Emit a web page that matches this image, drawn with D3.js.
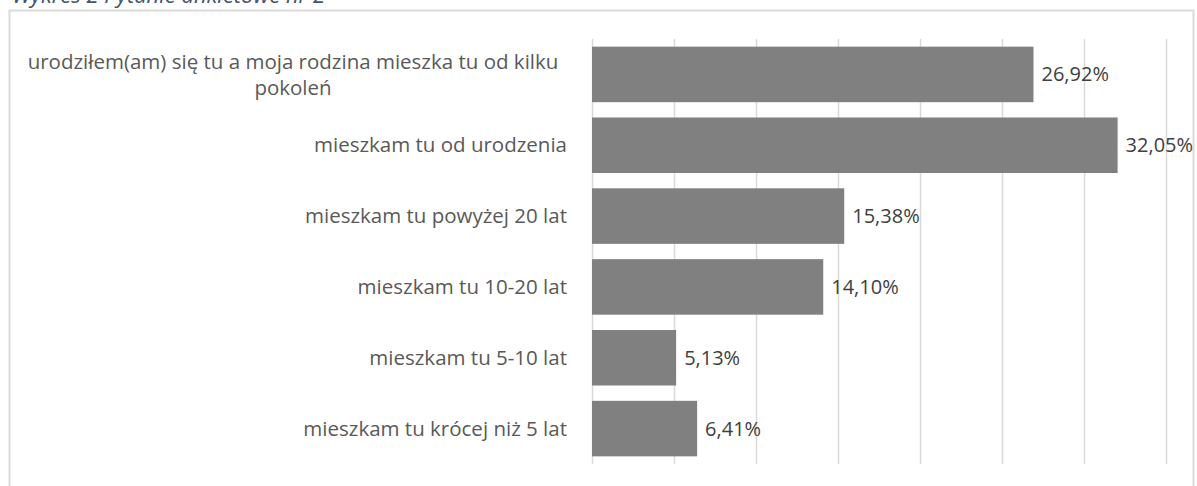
<!DOCTYPE html>
<html>
<head>
<meta charset="utf-8">
<script src="https://cdn.jsdelivr.net/npm/d3@7"></script>
<style>
  html, body { margin: 0; padding: 0; background: #fff; }
  svg { display: block; }
</style>
</head>
<body>
<svg id="chart" width="1197" height="486"></svg>
<script>
// Survey question 2: how long respondents have lived here (share of answers, %)
const categories = [
  "urodziłem(am) się tu a moja rodzina mieszka tu od kilku pokoleń",
  "mieszkam tu od urodzenia",
  "mieszkam tu powyżej 20 lat",
  "mieszkam tu 10-20 lat",
  "mieszkam tu 5-10 lat",
  "mieszkam tu krócej niż 5 lat"
];
const shares = [26.92, 32.05, 15.38, 14.10, 5.13, 6.41];
const gridTicks = [0, 5, 10, 15, 20, 25, 30, 35];
const title = "Wykres 2 Pytanie ankietowe nr 2";

const FONT = "'Open Sans', sans-serif";
const svg = d3.select("#chart");

const plot = { left: 592, right: 1166, top: 39, bottom: 464 };

const x = d3.scaleLinear().domain([0, 35]).range([plot.left, plot.right]);
const y = d3.scaleBand()
  .domain(categories)
  .range([plot.top, plot.bottom])
  .paddingInner(0.216)
  .paddingOuter(0.108);

const pl = d3.formatLocale({ decimal: ",", thousands: " ", grouping: [3], currency: ["", " zł"] });
const pct = v => pl.format(".2f")(v) + "%";

// chart frame
svg.append("rect")
  .attr("x", 9.5).attr("y", 10.5)
  .attr("width", 1184).attr("height", 500)
  .attr("fill", "#fff")
  .attr("stroke", "#d9d9d9")
  .attr("stroke-width", 2);

// caption above the frame
svg.append("text")
  .attr("x", 12).attr("y", 3)
  .attr("font-family", FONT)
  .attr("font-style", "italic")
  .attr("font-size", 22)
  .attr("fill", "#44546a")
  .text(title);

// vertical gridlines
const grid = svg.append("g")
  .attr("transform", `translate(0,${plot.bottom})`)
  .call(d3.axisBottom(x).tickValues(gridTicks).tickSize(-(plot.bottom - plot.top)).tickFormat(""));
grid.select(".domain").remove();
grid.selectAll(".tick line").attr("stroke", "#d9d9d9").attr("stroke-width", 1.5);

// bars
svg.append("g").selectAll("rect")
  .data(categories)
  .join("rect")
  .attr("x", x(0))
  .attr("y", d => y(d))
  .attr("width", (d, i) => x(shares[i]) - x(0))
  .attr("height", y.bandwidth())
  .attr("fill", "#808080");

// value labels
svg.append("g").selectAll("text")
  .data(categories)
  .join("text")
  .attr("x", (d, i) => x(shares[i]) + 8)
  .attr("y", d => y(d) + y.bandwidth() / 2)
  .attr("dy", "0.35em")
  .attr("font-family", FONT)
  .attr("font-size", 20)
  .attr("fill", "#404040")
  .text((d, i) => pct(shares[i]));

// category labels: single lines right-aligned to the axis,
// wrapped labels centred in the label column
const labelLeft = 19;
const labelRight = 567;
const maxLabelWidth = 548;
const lineHeight = 26;
const labels = svg.append("g");
categories.forEach(cat => {
  const probe = labels.append("text")
    .attr("font-family", FONT)
    .attr("font-size", 20.5);
  const words = cat.split(" ");
  const lines = [];
  let line = [];
  words.forEach(w => {
    probe.text(line.concat(w).join(" "));
    if (probe.node().getComputedTextLength() > maxLabelWidth && line.length) {
      lines.push(line.join(" "));
      line = [w];
    } else {
      line.push(w);
    }
  });
  lines.push(line.join(" "));
  probe.remove();
  const multi = lines.length > 1;
  const ax = multi ? (labelLeft + labelRight) / 2 : labelRight;
  const cy = y(cat) + y.bandwidth() / 2;
  lines.forEach((l, i) => {
    labels.append("text")
      .attr("font-family", FONT)
      .attr("font-size", 20.5)
      .attr("fill", "#595959")
      .attr("text-anchor", multi ? "middle" : "end")
      .attr("x", ax)
      .attr("y", cy + (i - (lines.length - 1) / 2) * lineHeight)
      .attr("dy", "0.35em")
      .text(l);
  });
});
</script>
</body>
</html>
